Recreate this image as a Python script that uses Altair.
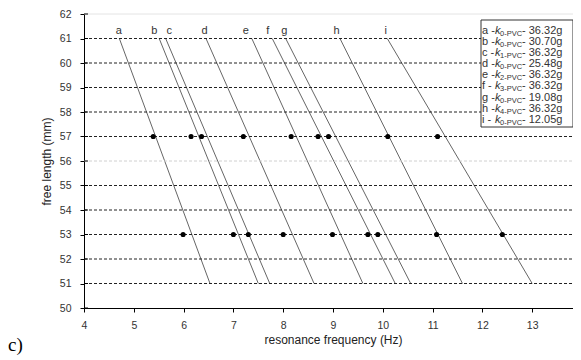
import altair as alt
import pandas as pd

# ---- data ----
letters = ["a", "b", "c", "d", "e", "f", "g", "h", "i"]
freq_top = [4.71, 5.51, 5.64, 6.45, 7.37, 7.78, 8.05, 9.14, 10.09]   # at 61 mm
freq_bottom = [6.53, 7.50, 7.73, 8.62, 9.60, 10.25, 10.56, 11.6, 13.0]  # at 51 mm
label_freq = [4.70, 5.41, 5.71, 6.42, 7.25, 7.69, 8.02, 9.07, 10.06]   # where the letters sit
len_top = 61
len_bottom = 51
freq_57 = [5.39, 6.15, 6.36, 7.20, 8.16, 8.70, 8.91, 10.10, 11.10]
freq_53 = [5.99, 7.00, 7.30, 8.00, 8.99, 9.70, 9.90, 11.08, 12.40]

legend_sub = ["0-PVC", "0-PVC", "1-PVC", "0-PVC", "2-PVC", "3-PVC", "0-PVC", "4-PVC", "0-PVC"]
legend_mass = ["36.32g", "30.70g", "36.32g", "25.48g", "36.32g", "36.32g", "19.08g", "36.32g", "12.05g"]

grid_dark = [51, 52, 53, 54, 55, 57, 58, 59, 60, 61]
grid_light = [56]
y_ticks = list(range(50, 63))
x_ticks = list(range(4, 15))

FONT = "Liberation Sans"
W, H = 498, 294

lines_df = pd.DataFrame(
    [{"s": l, "f": ft, "L": len_top} for l, ft in zip(letters, freq_top)]
    + [{"s": l, "f": fb, "L": len_bottom} for l, fb in zip(letters, freq_bottom)]
)
pts_df = pd.DataFrame(
    [{"s": l, "f": f, "L": 57} for l, f in zip(letters, freq_57)]
    + [{"s": l, "f": f, "L": 53} for l, f in zip(letters, freq_53)]
)
top_df = pd.DataFrame({"s": letters, "f": label_freq, "L": [len_top] * len(letters)})
leg_df = pd.DataFrame({"row": list(range(len(letters))), "letter": [l + " -" for l in letters],
                       "sub": legend_sub, "mass": ["- " + m for m in legend_mass]})
gd_df = pd.DataFrame({"L": grid_dark})
gl_df = pd.DataFrame({"L": grid_light})
yt_df = pd.DataFrame({"L": y_ticks})

xs = alt.Scale(domain=[4, 14], nice=False, zero=False)
ys = alt.Scale(domain=[50, 62], nice=False, zero=False)
x_axis = alt.Axis(values=x_ticks, grid=False, title="resonance frequency (Hz)",
                  format="d", tickSize=4, labelPadding=8, domainColor="#000",
                  tickColor="#000", titleBaseline="alphabetic", titleY=35,
                  labelOverlap=False, labelFlush=False)
y_axis = alt.Axis(values=y_ticks, grid=False, title="free length (mm)",
                  format="d", tickSize=4, labelPadding=9, domainColor="#000",
                  tickColor="#000", titleAngle=270, titleBaseline="bottom",
                  titleX=-31, titleY=H / 2, labelOverlap=False, labelFlush=False)


def X(field):
    return alt.X(field, scale=xs, axis=x_axis)


def Y(field):
    return alt.Y(field, scale=ys, axis=y_axis)


lines = alt.Chart(lines_df).mark_line(color="#666", strokeWidth=1).encode(
    x=X("f:Q"), y=Y("L:Q"), detail="s:N")
grid_d = alt.Chart(gd_df).mark_rule(color="#222", strokeDash=[3, 2], strokeWidth=1).encode(
    y=Y("L:Q"), x=alt.value(0), x2=alt.value(W))
grid_l = alt.Chart(gl_df).mark_rule(color="#d0d0d0", strokeDash=[3, 2], strokeWidth=1).encode(
    y=Y("L:Q"), x=alt.value(0), x2=alt.value(W))
top_border = alt.Chart(pd.DataFrame({"L": [62]})).mark_rule(color="#e4e4e4").encode(
    y=Y("L:Q"), x=alt.value(0), x2=alt.value(W))
inner_ticks = alt.Chart(yt_df).mark_rule(color="#000").encode(
    y=Y("L:Q"), x=alt.value(0), x2=alt.value(4))

pts = alt.Chart(pts_df).mark_point(filled=True, color="#000", opacity=1, size=26).encode(
    x=X("f:Q"), y=Y("L:Q"))
tops = alt.Chart(top_df).mark_text(font=FONT, fontSize=11, color="#333", baseline="alphabetic",
                                   dy=-5).encode(
    x=X("f:Q"), y=Y("L:Q"), text="s:N")

# legend box
box = alt.Chart(pd.DataFrame({"a": [0]})).mark_rect(fill="white", stroke="#333", strokeWidth=1).encode(
    x=alt.value(397), x2=alt.value(489), y=alt.value(6), y2=alt.value(113))
leg_base = alt.Chart(leg_df).transform_calculate(py="16.7 + datum.row * 11.15")
leg_letter = leg_base.mark_text(font=FONT, fontSize=11, color="#333", align="left", baseline="middle").encode(
    x=alt.value(398), y=alt.Y("py:Q", scale=None), text="letter:N")
leg_k = leg_base.mark_text(font=FONT, fontSize=11, fontStyle="italic", color="#333", align="left",
                           baseline="middle").encode(
    x=alt.value(411), y=alt.Y("py:Q", scale=None), text=alt.value("k"))
leg_sub = leg_base.mark_text(font=FONT, fontSize=7.5, color="#333", align="left", baseline="middle",
                             dy=3).encode(
    x=alt.value(416), y=alt.Y("py:Q", scale=None), text="sub:N")
leg_mass = leg_base.mark_text(font=FONT, fontSize=11, color="#333", align="left", baseline="middle").encode(
    x=alt.value(438), y=alt.Y("py:Q", scale=None), text="mass:N")

panel = alt.Chart(pd.DataFrame({"t": ["c)"]})).mark_text(
    font="Liberation Serif", fontSize=19, color="#000", align="left", baseline="middle").encode(
    x=alt.value(-76), y=alt.value(331), text="t:N")

chart = alt.layer(
    lines, top_border, grid_d, grid_l, inner_ticks, pts, tops,
    box, leg_letter, leg_k, leg_sub, leg_mass, panel,
).properties(
    width=W, height=H,
    autosize=alt.AutoSizeParams(type="none"),
    padding={"left": 76, "top": 6, "right": -9, "bottom": 51},
).configure_view(stroke=None).configure_axis(
    labelFont=FONT, labelFontSize=10.5, labelColor="#333",
    titleFont=FONT, titleFontSize=12, titleColor="#222", titleFontWeight="normal",
)

chart.save("out.html", embed_options={"renderer": "svg", "actions": False})
